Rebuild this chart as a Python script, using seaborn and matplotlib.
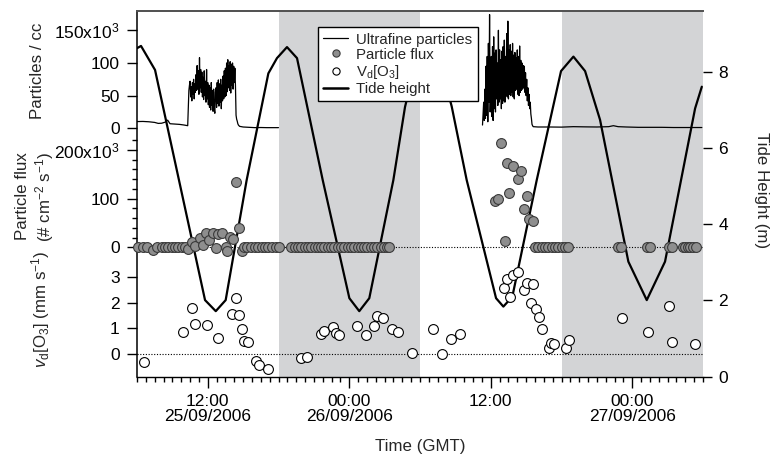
import numpy as np
import pandas as pd
import matplotlib
matplotlib.use("Agg")
import matplotlib.pyplot as plt
import matplotlib.dates as mdates
from matplotlib.lines import Line2D
from matplotlib.ticker import MultipleLocator
import seaborn as sns

sns.set_theme(style="ticks")
plt.rcParams["font.family"] = ["Liberation Sans", "DejaVu Sans"]
plt.rcParams["mathtext.fontset"] = "custom"
plt.rcParams["mathtext.rm"] = "Liberation Sans"
plt.rcParams["mathtext.it"] = "Liberation Sans:italic"
plt.rcParams["mathtext.bf"] = "Liberation Sans:bold"
plt.rcParams["font.size"] = 12.5

# ---------------- data (hours after 25/09/2006 06:00 GMT) ----------------
START = "2006-09-25 06:00"
END = "2006-09-27 06:00"
nights = [("2006-09-25 18:00", "2006-09-26 06:00"),
          ("2006-09-26 18:00", "2006-09-27 06:00")]
xtick_times = ["2006-09-25 12:00", "2006-09-26 00:00",
               "2006-09-26 12:00", "2006-09-27 00:00"]
xtick_labels = ["12:00\n25/09/2006", "00:00\n26/09/2006",
                "12:00", "00:00\n27/09/2006"]

# ultrafine particles (x10^3 per cc)
ufp_pre1_h = [0.0, 0.5, 1.0, 1.5, 1.8, 2.1, 2.4, 2.6, 2.8, 3.2, 3.6, 4.0, 4.3]
ufp_pre1_k = [10.3, 10.5, 10.0, 9.0, 7.5, 7.8, 9.5, 12.5, 7.0, 6.5, 6.0, 5.0, 4.0]
# nucleation event 1, sampled every 3 min from 4.40 h
ufp_ev1_start, ufp_ev_dt = 4.40, 0.05
ufp_ev1_k = [58, 66, 72, 48, 64, 42, 70, 52, 75, 45, 68, 55, 82, 58, 96, 60,
             88, 52, 108, 62, 90, 55, 86, 48, 78, 44, 88, 50, 72, 40, 90, 45,
             70, 36, 66, 32, 62, 28, 70, 35, 58, 26, 60, 30, 23, 55, 62, 32,
             70, 38, 74, 34, 68, 40, 75, 30, 66, 42, 80, 45, 88, 48, 92, 50,
             100, 56, 105, 62, 96, 58, 102, 54, 98, 66, 100, 60, 95, 70, 92,
             65, 20, 14, 11, 7, 5, 4, 3]
ufp_post1_h = [9.0, 9.5, 10.0, 10.5, 11.0, 11.5, 12.0]
ufp_post1_k = [2.0, 1.5, 1.0, 1.2, 1.0, 1.0, 1.0]
# nucleation event 2, sampled every 3 min from 29.30 h
ufp_ev2_start = 29.30
ufp_ev2_k = [5, 22, 40, 12, 60, 15, 95, 20, 110, 10, 130, 40, 174, 25, 60,
             110, 18, 125, 12, 140, 30, 115, 25, 120, 45, 100, 35, 150, 40,
             120, 45, 105, 30, 118, 38, 125, 42, 135, 40, 110, 50, 145, 48,
             164, 45, 120, 52, 128, 50, 118, 55, 130, 48, 112, 45, 116, 58,
             108, 60, 120, 52, 110, 50, 126, 55, 104, 58, 100, 60, 96, 62,
             95, 55, 85, 50, 75, 42, 62, 35, 52, 30, 40, 22, 15, 6, 4, 2.5]
ufp_post2_h = [34.0, 35.0, 36.0, 37.0, 38.0, 39.0, 40.0, 40.4, 40.8, 41.5,
               42.5, 43.5, 44.5, 45.5, 46.5, 47.9]
ufp_post2_k = [2.0, 2.0, 1.8, 2.5, 2.2, 2.0, 2.5, 4.0, 2.5, 2.0,
               1.5, 1.5, 1.5, 1.2, 1.2, 1.2]

# particle flux (x10^3 # cm-2 s-1)
flux_h = [0.11, 0.53, 0.82, 1.38, 1.67, 2.09, 2.37, 2.65, 2.94, 3.22, 3.50,
          3.79, 4.07, 4.35, 4.64, 4.92, 5.34, 5.62, 5.85, 6.13, 6.42, 6.70,
          6.90, 7.18, 7.55, 7.66, 7.89, 8.17, 8.40, 8.63, 8.88,
          9.08, 9.37, 9.67, 9.97, 10.26, 10.56, 10.86, 11.15, 11.45, 11.75, 12.04,
          13.10, 13.38, 13.66, 13.94, 14.22, 14.50, 14.78, 15.06, 15.34, 15.62,
          15.90, 16.18, 16.46, 16.74, 17.02, 17.30, 17.58, 17.86, 18.14, 18.42,
          18.70, 18.98, 19.26, 19.54, 19.82, 20.10, 20.38, 20.66, 20.94, 21.22,
          21.40,
          30.36, 30.59, 30.85, 31.21, 31.36, 31.58, 31.87, 32.34, 32.54, 32.85,
          33.10, 33.27, 33.61,
          33.76, 34.04, 34.33, 34.61, 34.89, 35.17, 35.45, 35.73, 36.02, 36.30,
          36.58,
          40.82, 41.03, 43.28, 43.51, 45.15, 45.35, 46.28, 46.51, 46.71, 46.90,
          47.13, 47.39]
flux_k = [0, 0, 0, -6, 0, 0, 0, 0, 0, 0, 0,
          0, 0, -4, 12, 4, 19, 5, 30, 15, 29, -2,
          27, 30, 0, -8, 22, 17, 134, 41, -8,
          0, 0, 0, 0, 0, 0, 0, 0, 0, 0, 0,
          0, 0, 0, 0, 0, 0, 0, 0, 0, 0,
          0, 0, 0, 0, 0, 0, 0, 0, 0, 0,
          0, 0, 0, 0, 0, 0, 0, 0, 0, 0,
          0,
          95, 100, 214, 13, 174, 111, 167, 140, 157, 79,
          106, 58, 55,
          0, 0, 0, 0, 0, 0, 0, 0, 0, 0,
          0,
          0, 0, 0, 0, 0, 0, 0, 0, 0, 0,
          0, 0]

# ozone deposition velocity (mm s-1)
o3_h = [0.62, 3.93, 4.64, 4.92, 5.91, 6.90, 8.08, 8.40, 8.65, 8.93, 9.08,
        9.39, 10.09, 10.37, 11.14,
        13.91, 14.39, 15.61, 15.86, 16.65, 16.88, 17.13, 18.63, 19.40, 20.10,
        20.33, 20.89, 21.60, 22.11, 23.35,
        25.13, 25.84, 26.61, 27.40, 31.13, 31.36, 31.64, 31.87, 32.34, 32.85,
        33.10, 33.39, 33.56, 33.84, 34.12, 34.33, 34.94, 35.09, 35.37, 36.36,
        36.62,
        41.11, 43.37, 45.10, 45.35, 47.35]
o3_vd = [-0.30, 0.84, 1.80, 1.17, 1.13, 0.61, 1.54, 2.19, 1.52, 0.96, 0.51,
         0.45, -0.27, -0.43, -0.60,
         -0.14, -0.13, 0.78, 0.91, 1.06, 0.80, 0.74, 1.10, 0.74, 1.10,
         1.48, 1.41, 0.97, 0.87, 0.03,
         0.96, 0.00, 0.57, 0.78, 2.56, 2.92, 2.23, 3.07, 3.20, 2.49,
         2.77, 2.00, 2.71, 1.75, 1.43, 0.97, 0.22, 0.44, 0.38, 0.25,
         0.54,
         1.39, 0.87, 1.88, 0.48, 0.38]

# tide height (m)
tide_h = [0.00, 0.34, 1.53, 5.77, 6.68, 7.52, 9.30, 11.14, 11.87, 12.72, 13.57,
          15.75, 18.01, 18.85, 19.70, 21.74, 22.73, 23.66, 24.68, 25.70, 26.69,
          27.96, 30.45, 31.07, 31.83, 33.90, 35.96, 37.01, 38.00, 39.27, 41.67,
          43.23, 44.78, 47.33, 47.90]
tide_m = [8.62, 8.68, 8.05, 2.01, 1.72, 2.01, 5.16, 7.96, 8.36, 8.65, 8.36,
          5.16, 2.06, 1.72, 2.06, 5.16, 7.08, 8.26, 8.68, 8.26, 7.09,
          5.16, 2.06, 1.84, 2.10, 5.16, 8.02, 8.40, 8.02, 6.74, 3.02,
          2.01, 3.02, 7.04, 7.61]

# ---------------- helpers ----------------
x0 = mdates.date2num(pd.Timestamp(START).to_pydatetime())
x1 = mdates.date2num(pd.Timestamp(END).to_pydatetime())


def hx(hours):
    return x0 + np.asarray(hours, dtype=float) / 24.0


def dnum(s):
    return mdates.date2num(pd.Timestamp(s).to_pydatetime())


def sampled(start, dt, vals):
    return list(start + dt * np.arange(len(vals)))


ufp1_h = ufp_pre1_h + sampled(ufp_ev1_start, ufp_ev_dt, ufp_ev1_k) + ufp_post1_h
ufp1_k = ufp_pre1_k + ufp_ev1_k + ufp_post1_k
ufp2_h = sampled(ufp_ev2_start, ufp_ev_dt, ufp_ev2_k) + ufp_post2_h
ufp2_k = ufp_ev2_k + ufp_post2_k

W, H = 770, 462


def box(l, t, r, b):
    return [l / W, 1 - b / H, (r - l) / W, (b - t) / H]


L, R, T, B = 137, 703, 10.5, 376.7
TICK_FS = 12.5
LAB_FS = 12.2
FLUX_FILL = "#8e8e8e"
FLUX_EDGE = "#3a3a3a"
BAND = "#d3d4d6"

fig = plt.figure(figsize=(7.7, 4.62), dpi=100)

# background axes: night shading, time axis, frame
ax_bg = fig.add_axes(box(L, T, R, B))
ax_bg.set_facecolor("white")
for a, b in nights:
    ax_bg.axvspan(dnum(a), dnum(b), color=BAND, lw=0, zorder=0)
ax_bg.set_xlim(x0, x1)
ax_bg.set_ylim(0, 1)
ax_bg.set_yticks([])
ax_bg.set_xticks([dnum(s) for s in xtick_times])
ax_bg.set_xticklabels(xtick_labels)
ax_bg.set_xticks(np.arange(x0, x1 + 1e-6, 0.75 / 24.0), minor=True)
ax_bg.tick_params(axis="x", which="major", direction="out", length=7.6,
                  width=1.0, pad=4.5, labelsize=TICK_FS, colors="black")
ax_bg.tick_params(axis="x", which="minor", direction="out", length=3.6,
                  width=1.0, colors="black")
for lbl in ax_bg.get_xticklabels():
    lbl.set_linespacing(1.05)
ax_bg.spines["right"].set_visible(False)
ax_bg.spines["top"].set_color("#505050")
ax_bg.spines["top"].set_linewidth(1.4)
ax_bg.spines["left"].set_color("black")
ax_bg.spines["left"].set_linewidth(1.1)
ax_bg.spines["bottom"].set_color("black")
ax_bg.spines["bottom"].set_linewidth(1.0)

# tide height on right axis
ax_t = ax_bg.twinx()
sns.lineplot(x=hx(tide_h), y=tide_m, ax=ax_t, color="black", lw=1.6,
             estimator=None, sort=False)
ax_t.set_ylim(0, 9.61)
ax_t.set_xlim(x0, x1)
ax_t.set_yticks([0, 2, 4, 6, 8])
ax_t.tick_params(axis="y", right=True, direction="out", length=6.7, width=1.0,
                 pad=4.3, labelsize=TICK_FS, colors="black")
for s in ax_t.spines.values():
    s.set_visible(False)
ax_t.set_ylabel("")


def panel(top, bottom, ylim):
    ax = fig.add_axes(box(L, top, R, bottom))
    ax.patch.set_visible(False)
    for s in ax.spines.values():
        s.set_visible(False)
    ax.set_xlim(x0, x1)
    ax.set_xticks([])
    ax.set_ylim(*ylim)
    ax.tick_params(axis="y", which="major", left=True, direction="out",
                   length=7.4, width=1.0, pad=5, labelsize=TICK_FS,
                   colors="black")
    ax.tick_params(axis="y", which="minor", left=True, direction="out",
                   length=3.6, width=1.0, colors="black")
    return ax


# particles panel
ax_p = panel(10.5, 132, (-5.66, 180.3))
sns.lineplot(x=hx(ufp1_h), y=ufp1_k, ax=ax_p, color="black", lw=0.9,
             estimator=None, sort=False)
sns.lineplot(x=hx(ufp2_h), y=ufp2_k, ax=ax_p, color="black", lw=0.9,
             estimator=None, sort=False)
ax_p.set_xlim(x0, x1)
ax_p.set_yticks([0, 50, 100, 150])
ax_p.set_yticklabels(["0", "50", "100", "150x10$^{3}$"])
ax_p.set_xlabel("")
ax_p.set_ylabel("")

# particle flux panel
ax_f = panel(138, 257, (-19.5, 224.6))
ax_f.axhline(0, color="black", lw=0.8, ls=(0, (1, 1.5)), zorder=1)
sns.scatterplot(x=hx(flux_h), y=flux_k, ax=ax_f, s=50, color=FLUX_FILL,
                edgecolor=FLUX_EDGE, linewidth=0.8, zorder=3, clip_on=False)
ax_f.set_xlim(x0, x1)
ax_f.set_yticks([0, 100, 200])
ax_f.set_yticklabels(["0", "100", "200x10$^{3}$"])
ax_f.yaxis.set_minor_locator(MultipleLocator(20))
ax_f.set_xlabel("")
ax_f.set_ylabel("")

# ozone deposition panel
ax_o = panel(264, B, (-0.883, 3.50))
ax_o.axhline(0, color="black", lw=0.8, ls=(0, (1, 1.5)), zorder=1)
sns.scatterplot(x=hx(o3_h), y=o3_vd, ax=ax_o, s=50, color="white",
                edgecolor="black", linewidth=0.8, zorder=3, clip_on=False)
ax_o.set_xlim(x0, x1)
ax_o.set_yticks([0, 1, 2, 3])
ax_o.set_xlabel("")
ax_o.set_ylabel("")

# axis titles
fig.text(37 / W, 1 - 71 / H, "Particles / cc", rotation=90, ha="center",
         va="center", fontsize=LAB_FS)
fig.text(23 / W, 1 - 196 / H, "Particle flux", rotation=90, ha="center",
         va="center", fontsize=LAB_FS)
fig.text(45 / W, 1 - 197 / H, "(# cm$^{-2}$ s$^{-1}$)", rotation=90,
         ha="center", va="center", fontsize=LAB_FS)
fig.text(41 / W, 1 - 309 / H, "$v_{\\mathrm{d}}$[O$_{3}$] (mm s$^{-1}$)",
         rotation=90, ha="center", va="center", fontsize=LAB_FS)
fig.text(762 / W, 1 - 190 / H, "Tide Height (m)", rotation=270, ha="center",
         va="center", fontsize=LAB_FS)
fig.text(420 / W, 1 - 446 / H, "Time (GMT)", ha="center", va="center",
         fontsize=LAB_FS)

# legend
handles = [
    Line2D([], [], color="black", lw=0.9),
    Line2D([], [], marker="o", ls="", mfc=FLUX_FILL, mec=FLUX_EDGE, mew=0.8,
           ms=6.5),
    Line2D([], [], marker="o", ls="", mfc="white", mec="black", mew=0.8,
           ms=6.5),
    Line2D([], [], color="black", lw=1.8),
]
labels = ["Ultrafine particles", "Particle flux", "V$_{\\mathrm{d}}$[O$_{3}$]",
          "Tide height"]
leg = fig.legend(handles, labels, loc="upper left",
                 bbox_to_anchor=(317.5 / W, 1 - 27.3 / H),
                 bbox_transform=fig.transFigure, borderaxespad=0,
                 fontsize=10.8, frameon=True, fancybox=False, shadow=False,
                 framealpha=1, edgecolor="black", handlelength=1.7,
                 handletextpad=0.55, labelspacing=0.08, borderpad=0.35,
                 markerscale=0.8)
leg.get_frame().set_linewidth(1.0)

fig.savefig("out.png", dpi=100)
